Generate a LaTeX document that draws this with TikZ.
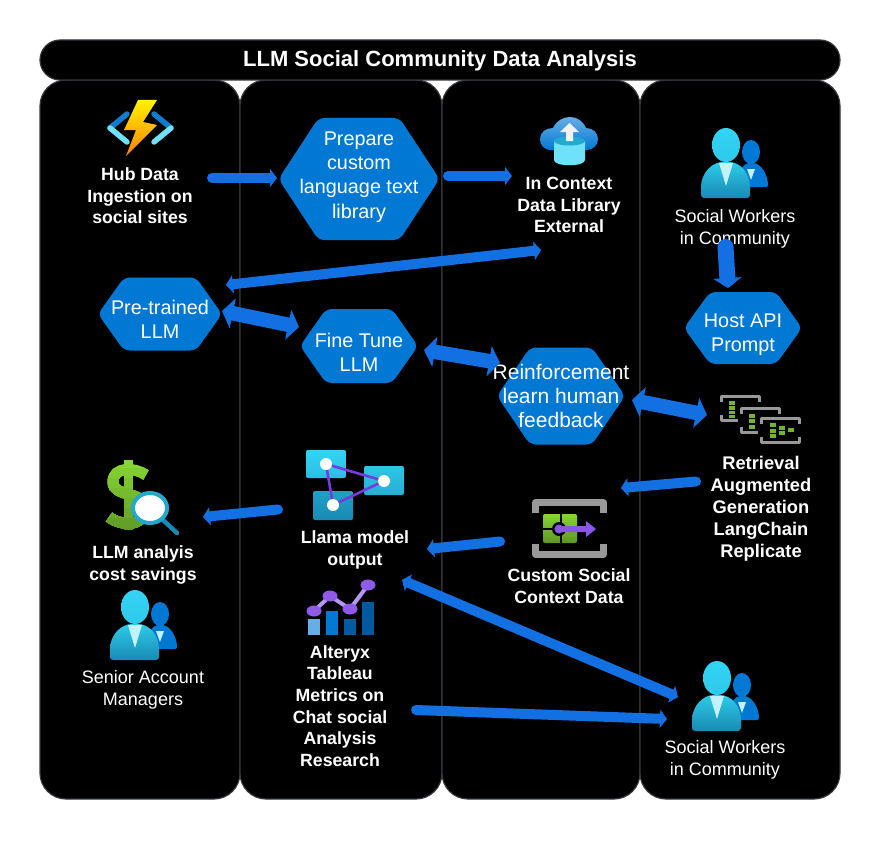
\documentclass[tikz,border=0pt]{standalone}
\usepackage{fontspec}
\setmainfont{Liberation Sans}
\usetikzlibrary{arrows.meta}
\definecolor{hexc}{HTML}{0078D4}
\definecolor{flowc}{HTML}{1270E2}
\definecolor{edgec}{HTML}{34383D}
\definecolor{cyanc}{HTML}{32D4F5}
\definecolor{tealc}{HTML}{198AB3}
\definecolor{collarc}{HTML}{C3F1FF}
\definecolor{grayc}{HTML}{999999}
\definecolor{greenc}{HTML}{86D633}
\definecolor{greenl}{HTML}{5E9624}
\definecolor{purpc}{HTML}{773ADC}
\definecolor{lilac}{HTML}{B796F9}
\begin{document}
\begin{tikzpicture}[x=1pt, y=-1pt, font=\sffamily]
  \tikzset{
    panel/.style={fill=black, draw=edgec, line width=1.2pt},
    lab/.style={align=center, text=white, font=\fontsize{17.7}{21.6}\selectfont\bfseries},
    plain/.style={align=center, text=white, font=\fontsize{18}{22}\selectfont},
    flow/.style={draw=flowc, line width=10pt, line cap=round, -{Triangle[length=7pt,width=18pt]}},
    flowtwo/.style={draw=flowc, line width=10pt, {Triangle[length=7pt,width=18pt]}-{Triangle[length=7pt,width=18pt]}},
    flowfat/.style={draw=flowc, line width=14.5pt, {Triangle[length=11pt,width=30pt]}-{Triangle[length=11pt,width=30pt]}},
    people/.pic={
      \fill[hexc, rounded corners=2pt] (14,42) -- (42,42) .. controls (42,30) and (35,18) .. (25,18) .. controls (18,18) and (14,25) .. (14,30) -- cycle;
      \fill[hexc] (25,7) ellipse [x radius=9pt, y radius=12pt];
      \fill[collarc] (21,24) -- (29,24) -- (25,35) -- cycle;
      \shade[top color=cyanc!90!teal, bottom color=tealc, rounded corners=3pt] (-25,53) -- (-25,45) .. controls (-25,28) and (-14,17) .. (0,17) .. controls (14,17) and (24,28) .. (24,45) -- (24,53) -- cycle;
      \shade[top color=cyanc, bottom color=cyanc!85!tealc] (0,0) ellipse [x radius=14pt, y radius=17pt];
      \fill[collarc] (-7,18) -- (7,18) -- (0,41) -- cycle;
    },
    ragframe/.pic={
      \fill[black] (-2,-2) rectangle (43,29);
      \draw[grayc, line width=3.2pt, line join=round] (1.5,7) -- (1.5,1.5) -- (39.5,1.5) -- (39.5,7);
      \draw[grayc, line width=3.2pt, line join=round] (1.5,20) -- (1.5,25.5) -- (39.5,25.5) -- (39.5,20);
    },
  }
  \useasboundingbox (0,0) rectangle (880,840);

  % columns and title bar
  \foreach \xa/\xb in {40/240,240/442,442/640,640/840} {
    \draw[panel, rounded corners=26pt] (\xa,80) rectangle (\xb,799);
  }
  \draw[panel, rounded corners=20pt] (40,40) rectangle (840,80);
  \node[text=white, font=\fontsize{22}{26}\selectfont\bfseries] (title) at (440,60.5) {LLM Social Community Data Analysis};

  % hexagons
  \foreach \nm/\cx/\cy/\w/\h/\ins/\fs/\ty/\txt in {
    prep/359/179/161/122/40/19.8/177/{Prepare\\custom\\language text\\library},
    pre/160/314/124/73/26/19.8/319/{Pre-trained\\LLM},
    host/743/328/118/72/26/19.8/335/{Host API\\Prompt},
    fine/359/346/118/74/26/19.8/352/{Fine Tune\\LLM},
    reinf/561/396/128/97/33/21/396/{Reinforcement\\learn human\\feedback}} {
    \fill[hexc, rounded corners=6pt] ({\cx-\w/2},\cy) -- ({\cx-\w/2+\ins},{\cy-\h/2}) -- ({\cx+\w/2-\ins},{\cy-\h/2})
      -- ({\cx+\w/2},\cy) -- ({\cx+\w/2-\ins},{\cy+\h/2}) -- ({\cx-\w/2+\ins},{\cy+\h/2}) -- cycle;
    \node[align=center, text=white, inner sep=0pt, font=\fontsize{\fs}{24.3}\selectfont] (\nm) at (\cx,\ty) {\txt};
  }

  % lightning and brackets
  \draw[cyan!60!blue, line width=5.5pt, line cap=round, line join=round] (127,114) -- (110,128);
  \draw[cyanc!70!white, line width=5.5pt, line cap=round, line join=round] (110,128) -- (127,142);
  \draw[cyan!60!blue, line width=5.5pt, line cap=round, line join=round] (154,114) -- (171,128);
  \draw[cyanc!70!white, line width=5.5pt, line cap=round, line join=round] (171,128) -- (154,142);
  \shade[top color=yellow!90!orange, bottom color=orange] (138,100) -- (157,100) -- (143,122) -- (157,125) -- (126,156) -- (136,130) -- (124,130) -- cycle;

  % cloud with cylinder
  \shade[top color=hexc!60!white, bottom color=hexc] (551,150) .. controls (543,150) and (540,144) .. (540,139) .. controls (540,132) and (546,128) .. (553,128)
    .. controls (556,121) and (563,117) .. (570,117) .. controls (577,117) and (583,121) .. (586,128) .. controls (593,128) and (598,133) .. (598,139)
    .. controls (598,145) and (593,150) .. (587,150) -- cycle;
  \fill[cyanc!70!white] (554,141) -- (554,160) .. controls (554,167) and (585,167) .. (585,160) -- (585,141) -- cycle;
  \fill[tealc!60!cyanc] (569.5,141) ellipse [x radius=15.5pt, y radius=4.5pt];
  \fill[gray!10] (569.5,123) -- (579,132) -- (573,132) -- (573,141) -- (566,141) -- (566,132) -- (560,132) -- cycle;

  % people
  \pic at (726,145) {people};
  \pic at (717,678) {people};
  \pic at (135,607) {people};

  % nested frames
  \pic at (720,395) {ragframe};
  \pic at (740,407) {ragframe};
  \pic at (760,417) {ragframe};
  \foreach \gx/\gy/\gw in {729/403/6,729/408/6,729/412.5/6,729/416.5/6,749/416/6,749/421/6,749/427/6,770/425/6,770/431/6,770/436/6,779/428/6,779/433/6,788/430/6} {
    \fill[greenc!85!black] (\gx,{\gy-1.8}) rectangle ({\gx+\gw},{\gy+1.8});
  }

  % data frame with arrow
  \draw[grayc, line width=6.5pt, line join=round] (535.5,513) -- (535.5,502.5) -- (603.5,502.5) -- (603.5,513);
  \draw[grayc, line width=6.5pt, line join=round] (535.5,544) -- (535.5,554.5) -- (603.5,554.5) -- (603.5,544);
  \shade[top color=greenc, bottom color=greenl, rounded corners=2pt] (543,514) rectangle (577,543);
  \fill[black] (559.5,514) rectangle (561.5,543);
  \fill[black] (543,528) rectangle (577,530);
  \fill[black] (559,529) circle (7pt);
  \fill[purpc!70!lilac] (559,529) circle (4.5pt);
  \fill[purpc!70!lilac] (559,526) -- (586,526) -- (586,521) -- (596,529) -- (586,537) -- (586,532) -- (559,532) -- cycle;

  % dollar and lens
  \foreach \i in {0,...,7} {
    \pgfmathtruncatemacro\mix{100-\i*14}
    \begin{scope}
      \clip (100,{458+\i*10}) rectangle (155,535);
      \fill[greenc!\mix!greenl] (124,460) rectangle (133,530);
      \draw[greenc!\mix!greenl, line width=11pt] (146,475) .. controls (135,467) and (113,466) .. (113,482) .. controls (113,498) and (145,490) .. (145,509) .. controls (145,527) and (120,526) .. (109,517);
    \end{scope}
  }
  \draw[tealc, line width=4.5pt, line cap=round] (163,520) -- (177,533);
  \fill[white, draw=tealc!60!cyanc, line width=4pt] (150,508) ellipse [x radius=17pt, y radius=15pt];

  % graph tiles
  \shade[top color=cyanc, bottom color=cyanc!70!tealc, rounded corners=2pt] (306,450) rectangle (346,478);
  \shade[top color=cyanc!80!tealc, bottom color=cyanc!50!tealc, rounded corners=2pt] (364,466) rectangle (404,495);
  \shade[top color=tealc!70!cyanc, bottom color=tealc, rounded corners=2pt] (313,491) rectangle (353,520);
  \draw[purpc, line width=2.6pt] (326,464) -- (384,481) -- (333,505) -- cycle;
  \foreach \px/\py in {326/464,384/481,333/505} { \fill[white] (\px,\py) circle (6pt); }

  % bars and trend line
  \fill[hexc!60!white] (308,619) rectangle (320,635);
  \fill[hexc] (326,611) rectangle (338,635);
  \fill[hexc!75!black] (344,619) rectangle (356,635);
  \fill[hexc!75!black] (362,602) rectangle (374,635);
  \draw[lilac, line width=4pt] (314,611) -- (330,596) -- (350,609) -- (368,585);
  \foreach \px/\py in {314/611,330/596,350/609,368/585} { \fill[purpc!65!lilac] (\px,\py) ellipse [x radius=7.5pt, y radius=5.5pt]; }

  % labels
  \node[lab] (hub) at (140,196) {Hub Data\\Ingestion on\\social sites};
  \node[lab] (ctx) at (569,205) {In Context\\Data Library\\External};
  \node[plain] (soca) at (735,229) {Social Workers\\in Community};
  \node[lab, font=\fontsize{18.3}{22.1}\selectfont\bfseries] (rag) at (761,508.5) {Retrieval\\Augmented\\Generation\\LangChain\\Replicate};
  \node[lab] (custom) at (569,586) {Custom Social\\Context Data};
  \node[lab] (llama) at (355,550) {Llama model\\output};
  \node[lab] (cost) at (143,565) {LLM analyis\\cost savings};
  \node[plain] (mgr) at (143,690) {Senior Account\\Managers};
  \node[lab] (metrics) at (340,706) {Alteryx\\Tableau\\Metrics on\\Chat social\\Analysis\\Research};
  \node[plain] (socb) at (725,760) {Social Workers\\in Community};

  % connectors
  \draw[flow] ([shift={(72,-18)}]hub.center) -- ([shift={(-82,1)}]prep.center);
  \draw[flow] ([shift={(89,-1)}]prep.center) -- ([shift={(-57,-29)}]ctx.center);
  \draw[flowtwo] ([shift={(-28,45)}]ctx.center) -- ([shift={(66,-34)}]pre.center);
  \draw[draw=flowc, line width=16pt, line cap=round, -{Triangle[length=10pt,width=28pt]}] ([shift={(-9.5,18)}]soca.center) -- ([shift={(-15,-47)}]host.center);
  \draw[flowfat] ([shift={(62,-8)}]pre.center) -- ([shift={(-60,-25)}]fine.center);
  \draw[flowfat] ([shift={(65,-2)}]fine.center) -- ([shift={(-61,-33)}]reinf.center);
  \draw[flowfat] ([shift={(71,4)}]reinf.center) -- ([shift={(-54,-93.5)}]rag.center);
  \draw[flow] ([shift={(-65,-27)}]rag.center) -- ([shift={(52,-98)}]custom.center);
  \draw[flow] ([shift={(-69,-44.5)}]custom.center) -- ([shift={(72,-1)}]llama.center);
  \draw[flow] ([shift={(-77,-40.5)}]llama.center) -- ([shift={(60,-48)}]cost.center);
  \draw[flowtwo] ([shift={(47,30)}]llama.center) -- ([shift={(-47,-63)}]socb.center);
  \draw[flow] ([shift={(76,4)}]metrics.center) -- ([shift={(-58,-41)}]socb.center);
\end{tikzpicture}
\end{document}
